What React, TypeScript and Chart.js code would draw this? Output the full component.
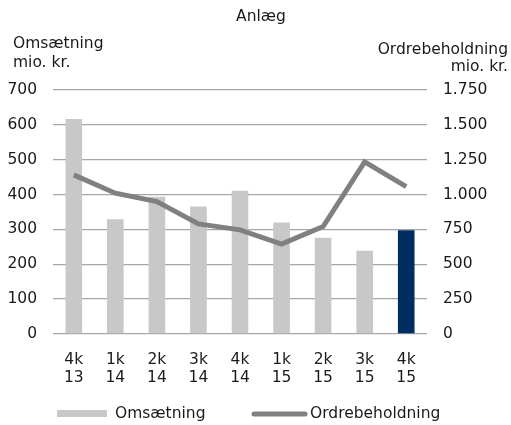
import React, { useEffect, useRef } from "react";
import { Chart, registerables } from "chart.js";

Chart.register(...registerables);

const categories: string[][] = [
  ["4k", "13"], ["1k", "14"], ["2k", "14"], ["3k", "14"], ["4k", "14"],
  ["1k", "15"], ["2k", "15"], ["3k", "15"], ["4k", "15"],
];
const omsaetning: number[] = [617, 329, 394, 366, 411, 320, 276, 239, 298];
const ordrebeholdning: number[] = [1141, 1010, 950, 790, 747, 645, 771, 1234, 1057];
const barColors: string[] = [
  "#c8c8c8", "#c8c8c8", "#c8c8c8", "#c8c8c8", "#c8c8c8",
  "#c8c8c8", "#c8c8c8", "#c8c8c8", "#002e63",
];
const chartTitle = "Anlæg";
const leftTitle = ["Omsætning", "mio. kr."];
const rightTitle = ["Ordrebeholdning", "mio. kr."];
const legendLabels = ["Omsætning", "Ordrebeholdning"];

const FONT = "'DejaVu Sans', Verdana, sans-serif";
const FS = 15.5;
const TEXT = "#1a1a1a";

const fmtDa = (v: number) => {
  const s = Math.round(v).toString();
  return s.replace(/\B(?=(\d{3})+(?!\d))/g, ".");
};

const overlay = {
  id: "overlay",
  afterDraw(chart: any) {
    const ctx = chart.ctx;
    ctx.save();
    ctx.fillStyle = TEXT;
    ctx.font = `${FS}px ${FONT}`;
    ctx.textBaseline = "middle";
    ctx.textAlign = "center";
    ctx.fillText(chartTitle, 261, 17);
    ctx.textAlign = "left";
    ctx.fillText(leftTitle[0], 13, 44);
    ctx.fillText(leftTitle[1], 13, 63);
    ctx.textAlign = "right";
    ctx.fillText(rightTitle[0], 508, 50);
    ctx.fillText(rightTitle[1], 508, 67);
    // legend
    const ly = 414;
    ctx.fillStyle = "#c8c8c8";
    ctx.fillRect(57, 410, 50, 7);
    ctx.strokeStyle = "#808080";
    ctx.lineWidth = 5;
    ctx.lineCap = "round";
    ctx.beginPath();
    ctx.moveTo(254, ly);
    ctx.lineTo(305, ly);
    ctx.stroke();
    ctx.fillStyle = TEXT;
    ctx.textAlign = "left";
    ctx.fillText(legendLabels[0], 115, ly);
    ctx.fillText(legendLabels[1], 310, ly);
    ctx.restore();
  },
};

export default function App() {
  const ref = useRef<HTMLCanvasElement | null>(null);
  useEffect(() => {
    if (!ref.current) return;
    const chart = new Chart(ref.current, {
      type: "bar",
      data: {
        labels: categories,
        datasets: [
          {
            type: "line",
            label: legendLabels[1],
            data: ordrebeholdning,
            yAxisID: "y2",
            borderColor: "#808080",
            backgroundColor: "#808080",
            borderWidth: 5,
            pointRadius: 0,
            tension: 0,
            order: 0,
          } as any,
          {
            type: "bar",
            label: legendLabels[0],
            data: omsaetning,
            yAxisID: "y",
            backgroundColor: barColors,
            barPercentage: 0.4,
            categoryPercentage: 1,
            order: 1,
          },
        ],
      },
      options: {
        responsive: false,
        animation: false,
        devicePixelRatio: 1,
        layout: { padding: { top: 90, bottom: 33, left: 0, right: 0 } },
        plugins: {
          legend: { display: false },
          title: { display: false },
          tooltip: { enabled: false },
        },
        scales: {
          x: {
            grid: { display: false },
            border: { display: false },
            ticks: {
              color: TEXT,
              font: { family: FONT, size: FS, lineHeight: 1.17 },
              padding: 9,
              maxRotation: 0,
              autoSkip: false,
            },
            afterFit: (s: any) => { s.height = 58; },
          },
          y: {
            position: "left",
            min: 0,
            max: 700,
            ticks: {
              stepSize: 100,
              color: TEXT,
              font: { family: FONT, size: FS },
              padding: 16,
            },
            grid: { color: "#a6a6a6", lineWidth: 1.3, drawTicks: false },
            border: { display: false },
            afterFit: (s: any) => { s.width = 53; },
          },
          y2: {
            position: "right",
            min: 0,
            max: 1750,
            ticks: {
              stepSize: 250,
              color: TEXT,
              font: { family: FONT, size: FS },
              padding: 16,
              callback: (v: any) => fmtDa(Number(v)),
            },
            grid: { display: false, drawTicks: false },
            border: { display: false },
            afterFit: (s: any) => { s.width = 84; },
          },
        },
      },
      plugins: [overlay],
    });
    return () => chart.destroy();
  }, []);
  return (
    <div style={{ position: "absolute", left: 0, top: 0, width: 511, height: 425, background: "#fff" }}>
      <canvas ref={ref} width={511} height={425} />
    </div>
  );
}
